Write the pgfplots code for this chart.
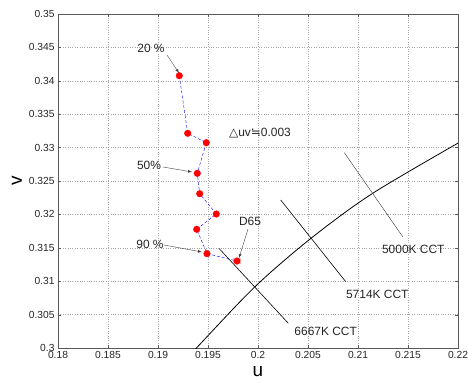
\documentclass[border=0pt]{standalone}
\usepackage{pgfplots}
\pgfplotsset{compat=1.18}
\usepackage{fontspec}
\setmainfont{Liberation Sans}
\newfontfamily\symfont{DejaVu Sans}
\begin{document}
\begin{tikzpicture}
\begin{axis}[
  scale only axis, width=400bp, height=334bp,
  xmin=0.18, xmax=0.22, ymin=0.3, ymax=0.35,
  xtick={0.18,0.185,0.19,0.195,0.2,0.205,0.21,0.215,0.22},
  ytick={0.3,0.305,0.31,0.315,0.32,0.325,0.33,0.335,0.34,0.345,0.35},
  grid=major, major grid style={dotted, gray!70, line width=0.45bp},
  tick align=inside, major tick length=3bp,
  axis line style={gray!70!black}, tick style={gray!70!black},
  ticklabel style={font=\fontsize{10.3}{12}\selectfont, text=black!85},
  /pgf/number format/fixed, /pgf/number format/precision=3,
  /pgf/number format/assume math mode=true,
  xlabel={u}, ylabel={v},
  label style={font=\fontsize{19}{21}\selectfont},
  xlabel style={yshift=-1bp},
]
% Planckian locus
\addplot[black, thick, smooth, tension=0.5] coordinates {
  (0.1925,0.2978) (0.19397,0.3002) (0.1997,0.30918) (0.2053,0.31642)
  (0.21147,0.32316) (0.2205,0.3311)
};
% isotemperature lines
\addplot[black, semithick] coordinates {(0.19613,0.31487) (0.20303,0.30370)};
\addplot[black, semithick] coordinates {(0.20227,0.32216) (0.20877,0.30993)};
\addplot[black!80, thin] coordinates {(0.20863,0.32924) (0.21447,0.31666)};
% chromaticity track from 20 % to 90 % and D65
\addplot[blue, densely dashed, thin, mark=*, mark size=3.3bp,
  mark options={solid, fill=red, draw=red}] coordinates {
  (0.19213,0.34076) (0.19297,0.33214) (0.19483,0.33073) (0.19393,0.32615)
  (0.19417,0.32310) (0.19583,0.32006) (0.19387,0.31777) (0.19490,0.31412)
  (0.19790,0.31302)
};
\addplot[red, only marks, mark=asterisk, mark size=4.5bp, thin] coordinates {(0.19790,0.31302)};
% annotations
\draw[-latex, black!75] (axis cs:0.1909,0.34386) -- (axis cs:0.1921,0.34117);
\draw[-latex, black!75] (axis cs:0.1905,0.32710) -- (axis cs:0.1934,0.32635);
\draw[-latex, black!75] (axis cs:0.1906,0.31542) -- (axis cs:0.1944,0.31437);
\draw[-latex, black!75] (axis cs:0.1990,0.31781) -- (axis cs:0.1981,0.31347);
\begin{scope}[every node/.style={font=\fontsize{12}{13}\selectfont, text=black!85}]
\node at (axis cs:0.1893,0.3449) {20 \%};
\node at (axis cs:0.1891,0.3273) {50\%};
\node at (axis cs:0.1892,0.3155) {90 \%};
\node at (axis cs:0.1992,0.3189) {D65};
\node at (axis cs:0.2002,0.3322) {{\symfont △}uv{\symfont ≒}0.003};
\node at (axis cs:0.21553,0.31478) {5000K CCT};
\node at (axis cs:0.21193,0.30808) {5714K CCT};
\node at (axis cs:0.20677,0.30254) {6667K CCT};
\end{scope}
\end{axis}
\pgfresetboundingbox
\path (current axis.south west) ++(-58bp,-35bp) coordinate (bl);
\path (current axis.north east) ++(10bp,14bp) coordinate (tr);
\path (bl) rectangle (tr);
\end{tikzpicture}
\end{document}
